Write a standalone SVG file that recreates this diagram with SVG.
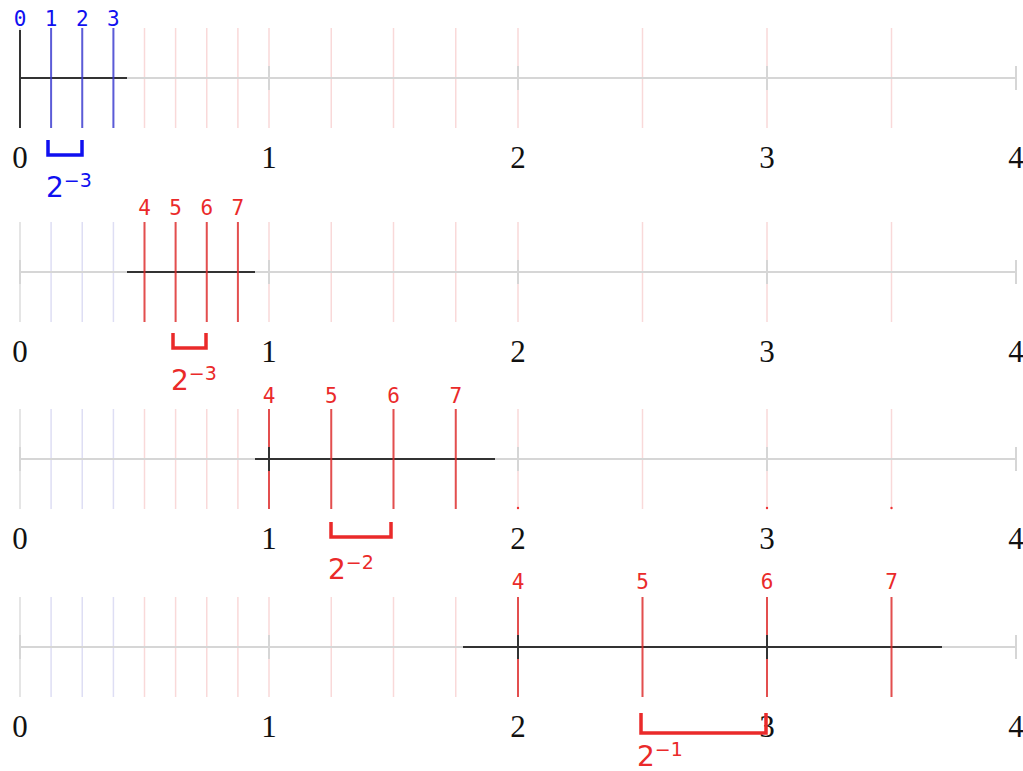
<svg xmlns="http://www.w3.org/2000/svg" width="1023" height="771" viewBox="0 0 1023 771">
<style>
.bg{fill:#fff}
.ax{stroke:#d6d6d6;stroke-width:2;fill:none}
.seg{stroke:#333;stroke-width:2;fill:none}
.fg{stroke:#dcdcdc;stroke-width:1.5}
.fb{stroke:#dedef4;stroke-width:1.5}
.fr{stroke:#f9d9d9;stroke-width:1.5}
.hb{stroke:#3a3ad0;stroke-opacity:.8;stroke-width:2}
.hr{stroke:#dd2a2a;stroke-opacity:.8;stroke-width:2}
.hk{stroke:#333;stroke-width:2}
.num{font-family:"Liberation Serif","DejaVu Serif",serif;font-size:31px;fill:#111;text-anchor:middle}
.top{font-family:"DejaVu Sans Mono","Liberation Mono",monospace;font-size:21px;text-anchor:middle}
.blue{fill:#1010f0}
.red{fill:#ea2a2a}
.brb{stroke:#1010f0;stroke-width:3.5;fill:none}
.brr{stroke:#ea2a2a;stroke-width:3.5;fill:none}
.pw{font-family:"DejaVu Sans","Liberation Sans",sans-serif;font-size:28px}
.sup{font-size:19px}
</style>
<defs>
  <g id="faint">
    <line class="fg" x1="20" y1="-50" x2="20" y2="50"/>
    <line class="fb" x1="51.1" y1="-50" x2="51.1" y2="50"/>
    <line class="fb" x1="82.25" y1="-50" x2="82.25" y2="50"/>
    <line class="fb" x1="113.4" y1="-50" x2="113.4" y2="50"/>
    <line class="fr" x1="144.5" y1="-50" x2="144.5" y2="50"/>
    <line class="fr" x1="175.6" y1="-50" x2="175.6" y2="50"/>
    <line class="fr" x1="206.75" y1="-50" x2="206.75" y2="50"/>
    <line class="fr" x1="237.9" y1="-50" x2="237.9" y2="50"/>
    <line class="fr" x1="269" y1="-50" x2="269" y2="50"/>
    <line class="fr" x1="331.25" y1="-50" x2="331.25" y2="50"/>
    <line class="fr" x1="393.5" y1="-50" x2="393.5" y2="50"/>
    <line class="fr" x1="455.75" y1="-50" x2="455.75" y2="50"/>
    <line class="fr" x1="518" y1="-50" x2="518" y2="50"/>
    <line class="fr" x1="642.5" y1="-50" x2="642.5" y2="50"/>
    <line class="fr" x1="767" y1="-50" x2="767" y2="50"/>
    <line class="fr" x1="891.5" y1="-50" x2="891.5" y2="50"/>
  </g>
  <g id="axis">
    <line class="ax" x1="20" y1="0" x2="1016" y2="0"/>
    <line class="ax" x1="20" y1="-12" x2="20" y2="12"/>
    <line class="ax" x1="269" y1="-12" x2="269" y2="12"/>
    <line class="ax" x1="518" y1="-12" x2="518" y2="12"/>
    <line class="ax" x1="767" y1="-12" x2="767" y2="12"/>
    <line class="ax" x1="1016" y1="-12" x2="1016" y2="12"/>
  </g>
  <g id="nums">
    <text class="num" x="20" y="90">0</text>
    <text class="num" x="269" y="90">1</text>
    <text class="num" x="518" y="90">2</text>
    <text class="num" x="767" y="90">3</text>
    <text class="num" x="1016" y="90">4</text>
  </g>
</defs>
<rect class="bg" x="0" y="0" width="1023" height="771"/>

<g id="row1" transform="translate(0,78)">
  <use href="#faint"/>
  <use href="#axis"/>
  <line class="seg" x1="20" y1="0" x2="127" y2="0"/>
  <line class="hk" x1="20" y1="-48" x2="20" y2="50"/>
  <line class="hb" x1="51.1" y1="-50" x2="51.1" y2="50"/>
  <line class="hb" x1="82.25" y1="-50" x2="82.25" y2="50"/>
  <line class="hb" x1="113.4" y1="-50" x2="113.4" y2="50"/>
  <text class="top blue" x="20" y="-52">0</text>
  <text class="top blue" x="51.1" y="-52">1</text>
  <text class="top blue" x="82.25" y="-52">2</text>
  <text class="top blue" x="113.4" y="-52">3</text>
  <use href="#nums"/>
  <path class="brb" d="M48,62 V77 H82 V62"/>
  <text class="pw blue" x="46" y="119">2<tspan class="sup" dy="-10">−3</tspan></text>
</g>

<g id="row2" transform="translate(0,272)">
  <use href="#faint"/>
  <use href="#axis"/>
  <line class="seg" x1="127" y1="0" x2="255" y2="0"/>
  <line class="hr" x1="144.5" y1="-50" x2="144.5" y2="50"/>
  <line class="hr" x1="175.6" y1="-50" x2="175.6" y2="50"/>
  <line class="hr" x1="206.75" y1="-50" x2="206.75" y2="50"/>
  <line class="hr" x1="237.9" y1="-50" x2="237.9" y2="50"/>
  <text class="top red" x="144.5" y="-57">4</text>
  <text class="top red" x="175.6" y="-57">5</text>
  <text class="top red" x="206.75" y="-57">6</text>
  <text class="top red" x="237.9" y="-57">7</text>
  <use href="#nums"/>
  <path class="brr" d="M173,61 V76 H206 V61"/>
  <text class="pw red" x="171" y="118">2<tspan class="sup" dy="-10">−3</tspan></text>
</g>

<g id="row3" transform="translate(0,459)">
  <use href="#faint"/>
  <use href="#axis"/>
  <line class="seg" x1="255" y1="0" x2="495" y2="0"/>
  <line class="hr" x1="269" y1="-50" x2="269" y2="50"/>
  <line class="hk" x1="269" y1="-12" x2="269" y2="12"/>
  <line class="hr" x1="331.25" y1="-50" x2="331.25" y2="50"/>
  <line class="hr" x1="393.5" y1="-50" x2="393.5" y2="50"/>
  <line class="hr" x1="455.75" y1="-50" x2="455.75" y2="50"/>
  <circle cx="518" cy="49" r="1.2" fill="#ee3333"/>
  <circle cx="767" cy="49" r="1.2" fill="#ee3333"/>
  <circle cx="891.5" cy="49" r="1.2" fill="#ee3333"/>
  <text class="top red" x="269" y="-56">4</text>
  <text class="top red" x="331.25" y="-56">5</text>
  <text class="top red" x="393.5" y="-56">6</text>
  <text class="top red" x="455.75" y="-56">7</text>
  <use href="#nums"/>
  <path class="brr" d="M331,63 V78 H391 V63"/>
  <text class="pw red" x="328" y="120">2<tspan class="sup" dy="-10">−2</tspan></text>
</g>

<g id="row4" transform="translate(0,647)">
  <use href="#faint"/>
  <use href="#axis"/>
  <line class="seg" x1="463" y1="0" x2="942" y2="0"/>
  <line class="hr" x1="518" y1="-50" x2="518" y2="50"/>
  <line class="hk" x1="518" y1="-12" x2="518" y2="12"/>
  <line class="hr" x1="642.5" y1="-50" x2="642.5" y2="50"/>
  <line class="hr" x1="767" y1="-50" x2="767" y2="50"/>
  <line class="hk" x1="767" y1="-12" x2="767" y2="12"/>
  <line class="hr" x1="891.5" y1="-50" x2="891.5" y2="50"/>
  <text class="top red" x="518" y="-58">4</text>
  <text class="top red" x="642.5" y="-58">5</text>
  <text class="top red" x="767" y="-58">6</text>
  <text class="top red" x="891.5" y="-58">7</text>
  <use href="#nums"/>
  <path class="brr" d="M641,66 V86 H766 V66"/>
  <text class="pw red" x="637" y="119">2<tspan class="sup" dy="-10">−1</tspan></text>
</g>
</svg>
